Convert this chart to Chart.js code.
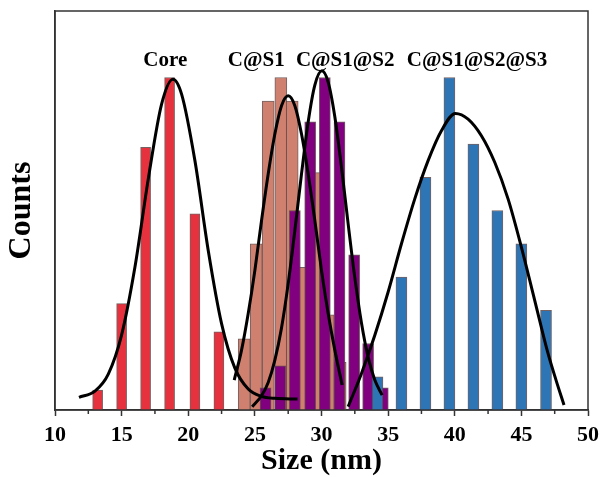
<!DOCTYPE html>
<html>
<head>
<meta charset="utf-8">
<script src="https://cdn.jsdelivr.net/npm/chart.js@4.4.1/dist/chart.umd.min.js"></script>
<style>
  html, body { margin: 0; padding: 0; background: #fff; }
</style>
</head>
<body>
<canvas id="sizeChart" width="605" height="477"></canvas>
<script>
// histogram bins (bin centre in nm) and relative counts, max bin = 100
const coreX = [13.2, 15.0, 16.8, 18.6, 20.5, 22.3]
const coreY = [6, 32, 79, 100, 59, 23.5]
const s1X = [24.2, 25.1, 26.0, 26.95, 27.8, 28.7, 29.6, 30.5, 31.4]
const s1Y = [21.4, 50, 92.9, 100, 92.9, 42.9, 71.4, 28.6, 14.3]
const s2X = [25.8, 26.9, 28.0, 29.15, 30.25, 31.35, 32.45, 33.5, 34.6]
const s2Y = [6.7, 13.3, 60, 86.7, 100, 86.7, 46.7, 20, 6.7]
const s3X = [34.2, 36.0, 37.8, 39.6, 41.4, 43.2, 45.0, 46.85]
const s3Y = [10, 40, 70, 100, 80, 60, 50, 30]

// fitted distribution curves
const coreFitX = [11.8, 13, 14, 15, 16, 17, 18, 18.85, 19.5, 20.5, 21.5, 22.5, 23.5, 24.5, 25.5, 26.5, 28.2]
const coreFitY = [3.8, 5.7, 10.8, 22.6, 43, 69.5, 92, 99.5, 95, 75, 48, 26, 12.6, 6.3, 4.1, 3.5, 3.3]
const s1FitX = [23.45, 24, 24.5, 25, 25.5, 26, 26.5, 27, 27.5, 28, 28.5, 29, 29.5, 30, 30.5, 31, 31.55]
const s1FitY = [9, 18, 29, 42, 57, 71, 83, 91.5, 94.5, 91.5, 83, 71, 57, 42, 29, 18, 7.5]
const s2FitX = [24.8, 25.5, 26, 26.5, 27, 27.5, 28, 28.5, 29, 29.5, 30.03, 30.5, 31, 31.5, 32, 32.5, 33, 33.5, 34, 34.55]
const s2FitY = [1, 4.3, 8.3, 15, 24.7, 38, 54, 71, 86.6, 97.7, 102, 98.6, 88.2, 73, 56, 39.8, 26.2, 15.9, 9, 4.5]
const s3FitX = [32, 33, 34, 35, 36, 37, 38, 39, 40.05, 41, 42, 43, 44, 45, 46, 47, 47.6, 48.2]
const s3FitY = [1, 11, 22.5, 35.5, 50, 63.5, 75, 84, 89.2, 87.5, 82.5, 74.5, 63.5, 49, 33, 17, 9, 1.5]

const names = ['Core', 'C@S1', 'C@S1@S2', 'C@S1@S2@S3']
const nameAt = [18.28, 25.1, 31.78, 41.67]

const serif = '"Liberation Serif", "Times New Roman", serif'

function pts(xs, ys) {
    return xs.map((x, i) => ({ x: x, y: ys[i] }))
}

function fitLine(xs, ys) {
    return {
        type: 'line',
        data: pts(xs, ys),
        borderColor: '#000',
        borderWidth: 3,
        pointRadius: 0,
        cubicInterpolationMode: 'monotone',
        fill: false,
        order: 0
    }
}

// all histograms share one "stack" so every bar sits right on its own bin centre
function bars(xs, ys, color, width, order) {
    return {
        type: 'bar',
        data: pts(xs, ys),
        backgroundColor: color,
        borderColor: 'rgba(90, 70, 70, 0.85)',
        borderWidth: 1,
        barThickness: width,
        stack: 'hist',
        order: order
    }
}

const overlay = {
    id: 'overlay',
    afterDatasetsDraw(chart) {
        const { ctx, chartArea: a, scales: { x, y } } = chart
        ctx.save()
        ctx.strokeStyle = '#333'
        ctx.lineWidth = 1.5
        const t = x.ticks
        for (let i = 0; i < t.length - 1; i++) {
            const px = x.getPixelForValue((t[i].value + t[i + 1].value) / 2)
            ctx.beginPath()
            ctx.moveTo(px, a.bottom)
            ctx.lineTo(px, a.bottom + 4)
            ctx.stroke()
        }
        ctx.strokeRect(a.left, a.top, a.right - a.left, a.bottom - a.top)

        ctx.font = 'bold 21px ' + serif
        ctx.fillStyle = '#000'
        ctx.textAlign = 'center'
        ctx.textBaseline = 'alphabetic'
        names.forEach((n, i) => {
            ctx.fillText(n, x.getPixelForValue(nameAt[i]), y.getPixelForValue(103.5))
        })
        ctx.restore()
    }
}

const ctx = document.getElementById('sizeChart').getContext('2d')
const sizeChart = new Chart(ctx, {
    type: 'bar',
    data: {
        datasets: [
            fitLine(coreFitX, coreFitY),
            fitLine(s1FitX, s1FitY),
            fitLine(s2FitX, s2FitY),
            fitLine(s3FitX, s3FitY),
            bars(s3X, s3Y, '#2E75B6', 11, 1),
            bars(s2X, s2Y, '#800080', 11, 2),
            bars(s1X, s1Y, '#D0806E', 12, 3),
            bars(coreX, coreY, '#E5323E', 10, 4)
        ]
    },
    options: {
        responsive: false,
        animation: false,
        layout: { padding: { top: 11, right: 16, left: 0, bottom: 0 } },
        plugins: {
            legend: { display: false },
            tooltip: { enabled: false }
        },
        scales: {
            x: {
                type: 'linear',
                min: 10,
                max: 50,
                offset: false,
                ticks: {
                    stepSize: 5,
                    color: '#000',
                    padding: 6,
                    font: { family: serif, size: 22, weight: 'bold' }
                },
                grid: {
                    drawOnChartArea: false,
                    offset: false,
                    tickLength: 6,
                    tickColor: '#333',
                    tickWidth: 1.5
                },
                border: { color: '#333', width: 1.5 },
                title: {
                    display: true,
                    text: 'Size (nm)',
                    color: '#000',
                    padding: { top: 0, bottom: 1 },
                    font: { family: serif, size: 30, weight: 'bold', lineHeight: 1 }
                },
                afterFit(axis) { axis.height = 67 }
            },
            y: {
                min: 0,
                max: 120,
                stacked: false,
                ticks: { display: false },
                grid: { display: false },
                border: { color: '#333', width: 1.5 },
                title: {
                    display: true,
                    text: 'Counts',
                    color: '#000',
                    padding: { top: 4, bottom: 0 },
                    font: { family: serif, size: 32, weight: 'bold', lineHeight: 1.1 }
                },
                afterFit(axis) { axis.width = 55 }
            }
        }
    },
    plugins: [overlay]
})
</script>
</body>
</html>
